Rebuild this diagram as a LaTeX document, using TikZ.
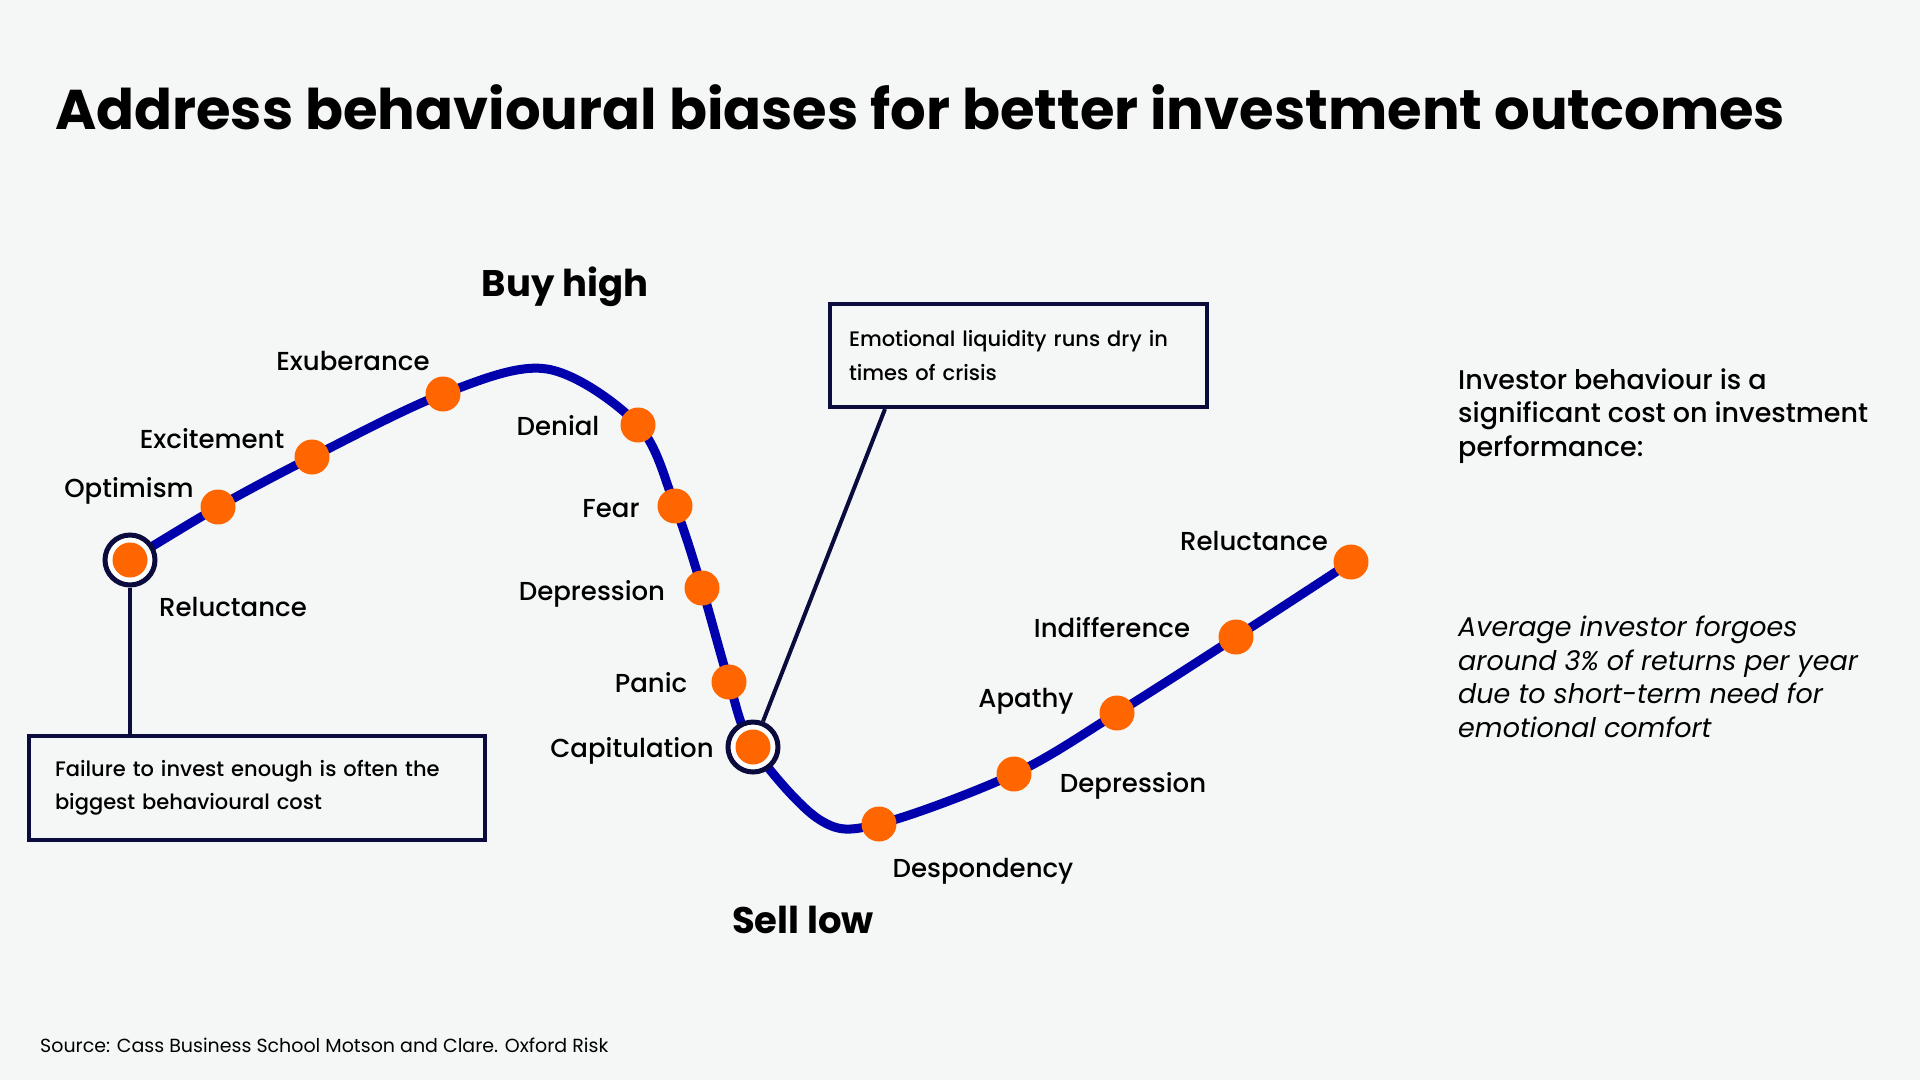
\documentclass[tikz,border=0pt]{standalone}
\usepackage{fontspec}
\setmainfont{Poppins}
\newfontfamily\medfont{Poppins Medium}
\usetikzlibrary{positioning}
\definecolor{bg}{HTML}{F5F7F6}
\definecolor{curveblue}{HTML}{0000AC}
\definecolor{dotorange}{HTML}{FF6600}
\definecolor{navy}{HTML}{0B0B3E}

\begin{document}
\begin{tikzpicture}[x=1pt,y=-1pt,
  dot/.style={circle,fill=dotorange,minimum size=35pt,inner sep=0pt},
  ring/.style={circle,draw=navy,line width=5pt,fill=white,minimum size=50pt,inner sep=0pt},
  stage/.style={font=\medfont\fontsize{26}{32}\selectfont,anchor=base,inner sep=0pt},
  phase/.style={font=\bfseries\fontsize{37}{44}\selectfont,anchor=base,inner sep=0pt},
  callout/.style={draw=navy,line width=4pt,align=left,inner xsep=0pt,inner ysep=0pt,
    font=\medfont\fontsize{21}{33}\selectfont},
  pointer/.style={navy,line width=4pt}]
% page and background
\fill[bg] (0,0) rectangle (1920,1080);
\useasboundingbox (0,0) rectangle (1920,1080);
% title
\node[anchor=base west,inner sep=0pt,font=\bfseries\fontsize{56}{66}\selectfont] (title) at (55,129)
  {Address behavioural biases for better investment outcomes};
% points on the cycle
\foreach \i/\x/\y in {1/130/560,2/218/507,3/312/457,4/443/394,5/547/369,6/638/425,
  7/675/506,8/702/588,9/729/682,10/753/747,11/820/820,12/879/824,13/1014/774,
  14/1117/713,15/1236/637,16/1351/562}
  \coordinate (p\i) at (\x,\y);
% cycle curve
\draw[curveblue,line width=9pt] plot[smooth,tension=0.55] coordinates
  {(p1) (p2) (p3) (p4) (p5) (p6) (p7) (p8) (p9) (p10) (p11) (p12) (p13) (p14) (p15) (p16)};
% call-out boxes
\node[callout,minimum width=456pt,minimum height=104pt,text width=404pt] (failbox) at (257,788)
  {Failure to invest enough is often the\\biggest behavioural cost};
\node[callout,minimum width=377pt,minimum height=103pt,text width=339pt] (liqbox) at (1018.5,355.5)
  {Emotional liquidity runs dry in\\times of crisis};
\coordinate (liqfoot) at ([xshift=57pt]liqbox.south west);
% rings
\node[ring] (startring) at (p1) {};
\node[ring] (capring) at (p10) {};
\draw[pointer] (startring.south) -- (startring.south |- failbox.north);
\draw[pointer] (liqfoot) -- (capring);
% dots
\foreach \i/\nm in {1/reluct,2/optim,3/excite,4/exuber,6/denial,7/fear,8/depress,9/panic,
  10/capit,12/despond,13/depressb,14/apathy,15/indiff,16/reluctb}
  \node[dot] (\nm) at (p\i) {};
% stage labels
\foreach \nm/\x/\y/\txt in {optim/129/497/Optimism,excite/212/448/Excitement,
  exuber/353/370/Exuberance,reluct/233/616/Reluctance,denial/558/435/Denial,
  fear/611/517/Fear,depress/592/600/Depression,panic/651/692/Panic,
  capit/632/757/Capitulation,despond/983/877/Despondency,depressb/1133/792/Depression,
  apathy/1026/707/Apathy,indiff/1112/637/Indifference,reluctb/1254/550/Reluctance}
  \node[stage] (lab\nm) at (\x,\y) {\txt};
% phases
\node[phase] (buyhigh) at (565,296) {Buy high};
\node[phase] (selllow) at (803,933) {Sell low};
% side notes (base = last line)
\node[anchor=base west,align=left,inner sep=0pt,font=\medfont\fontsize{27}{33.5}\selectfont]
  (costnote) at (1458,456) {Investor behaviour is a\\significant cost on investment\\performance:};
\node[anchor=base west,align=left,inner sep=0pt,font=\itshape\fontsize{27}{33.5}\selectfont]
  (returnnote) at (1458,737) {Average investor forgoes\\around 3\% of returns per year\\due to short-term need for\\emotional comfort};
% source
\node[anchor=base west,inner sep=0pt,font=\fontsize{19}{23}\selectfont] (source) at (40,1052)
  {Source: Cass Business School Motson and Clare. Oxford Risk};
\end{tikzpicture}
\end{document}
